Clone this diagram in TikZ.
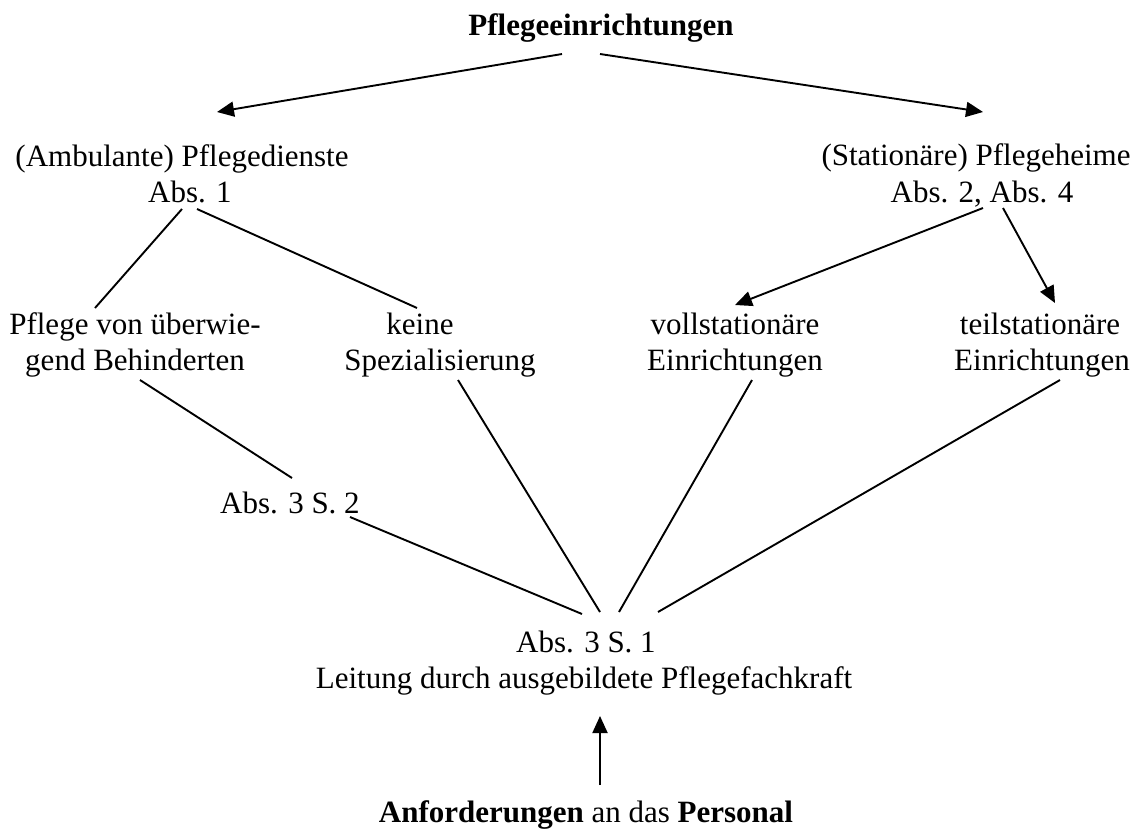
\documentclass[tikz,border=0pt]{standalone}
\usepackage{fontspec}
\setmainfont{Liberation Serif}
\usetikzlibrary{arrows.meta}
\tikzset{
  lbl/.style={anchor=base, inner sep=0pt, font=\fontsize{31}{36}\selectfont},
  conn/.style={line width=1.9pt, black},
  arr/.style={conn, -{Triangle[length=17pt,width=15pt]}}
}
\begin{document}
\begin{tikzpicture}[x=1pt,y=-1pt]
\useasboundingbox (0,0) rectangle (1145,830);
\node[lbl] (top) at (601,35) {\textbf{Pflegeeinrichtungen}};
\node[lbl] (amb1) at (182,166) {(Ambulante) Pflegedienste};
\node[lbl] (amb2) at (190,202) {Abs. 1};
\node[lbl] (sta1) at (976,165) {(Stationäre) Pflegeheime};
\node[lbl] (sta2) at (982,202) {Abs. 2, Abs. 4};
\node[lbl] (beh1) at (135,334) {Pflege von überwie-};
\node[lbl] (beh2) at (135,370) {gend Behinderten};
\node[lbl] (kei1) at (420,334) {keine};
\node[lbl] (kei2) at (440,370) {Spezialisierung};
\node[lbl] (vol1) at (735,334) {vollstationäre};
\node[lbl] (vol2) at (735,370) {Einrichtungen};
\node[lbl] (teil1) at (1040,334) {teilstationäre};
\node[lbl] (teil2) at (1042,370) {Einrichtungen};
\node[lbl] (abs32) at (290,513) {Abs. 3 S. 2};
\node[lbl] (abs31) at (586,652) {Abs. 3 S. 1};
\node[lbl] (leit) at (584,688) {Leitung durch ausgebildete Pflegefachkraft};
\node[lbl] (anf) at (586,822) {\textbf{Anforderungen} an das \textbf{Personal}};

\draw[arr] ([shift={(-39,19)}]top.base) -- ([shift={(35,-54)}]amb1.base);
\draw[arr] ([shift={(-1,19)}]top.base) -- ([shift={(7,-53)}]sta1.base);
\draw[conn] ([shift={(-8,7)}]amb2.base) -- ([shift={(-40,-26)}]beh1.base);
\draw[conn] ([shift={(7,7)}]amb2.base) -- ([shift={(-3,-26)}]kei1.base);
\draw[arr] ([shift={(1,6)}]sta2.base) -- ([shift={(0,-29)}]vol1.base);
\draw[arr] ([shift={(21,6)}]sta2.base) -- ([shift={(15,-31)}]teil1.base);
\draw[conn] ([shift={(5,10)}]beh2.base) -- ([shift={(2,-35)}]abs32.base);
\draw[conn] ([shift={(60,4)}]abs32.base) -- ([shift={(-4,-38)}]abs31.base);
\draw[conn] ([shift={(18,10)}]kei2.base) -- ([shift={(14,-40)}]abs31.base);
\draw[conn] ([shift={(17,10)}]vol2.base) -- ([shift={(33,-40)}]abs31.base);
\draw[conn] ([shift={(18,10)}]teil2.base) -- ([shift={(72,-40)}]abs31.base);
\draw[arr] ([shift={(14,-37)}]anf.base) -- ([shift={(16,28)}]leit.base);
\end{tikzpicture}
\end{document}
